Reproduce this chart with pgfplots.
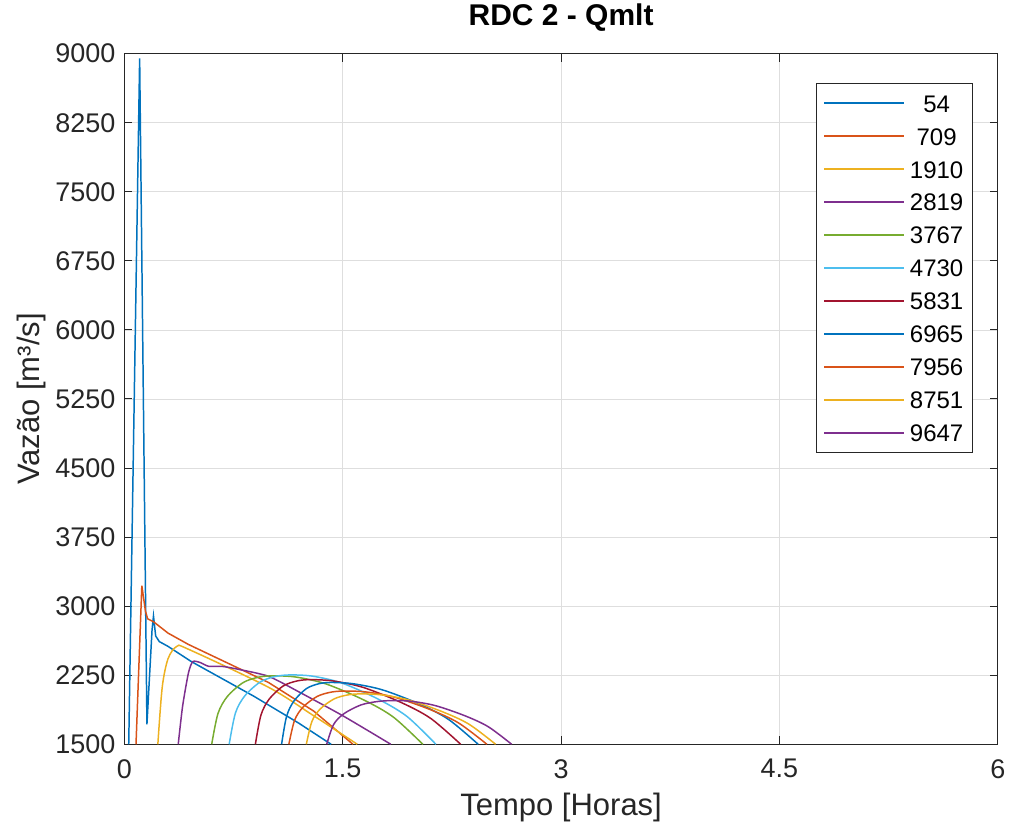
\documentclass[border=0pt]{standalone}
\usepackage{fontspec}
\setmainfont{Liberation Sans}
\usepackage{pgfplots}
\pgfplotsset{compat=1.18}
\definecolor{mA}{rgb}{0,0.447,0.741}
\definecolor{mB}{rgb}{0.850,0.325,0.098}
\definecolor{mC}{rgb}{0.929,0.694,0.125}
\definecolor{mD}{rgb}{0.494,0.184,0.556}
\definecolor{mE}{rgb}{0.466,0.674,0.188}
\definecolor{mF}{rgb}{0.301,0.745,0.933}
\definecolor{mG}{rgb}{0.635,0.078,0.184}
\definecolor{axgray}{rgb}{0.15,0.15,0.15}
\definecolor{gridgray}{rgb}{0.87,0.87,0.87}
\newcommand{\legbox}[1]{\hspace*{1.5bp}\makebox[24bp][c]{#1}}

\begin{document}
\begin{tikzpicture}
\begin{axis}[
    width=437bp, height=345.5bp, scale only axis,
    xmin=0, xmax=6, ymin=1500, ymax=9000,
    xtick={0,1.5,3,4.5,6},
    ytick={1500,2250,3000,3750,4500,5250,6000,6750,7500,8250,9000},
    scaled ticks=false,
    /pgf/number format/1000 sep={},
    /pgf/number format/assume math mode=true,
    tick align=inside,
    major tick length=4bp,
    axis line style={axgray, line width=0.5pt},
    tick style={axgray, line width=0.5pt},
    grid=major,
    major grid style={gridgray, line width=0.4pt},
    ticklabel style={font=\fontsize{13.5bp}{15bp}\selectfont, text=axgray},
    xticklabel style={yshift=-4bp},
    yticklabel style={xshift=-1bp},
    title={\textbf{RDC 2 - Qmlt}},
    title style={font=\fontsize{15bp}{17bp}\selectfont, at={(0.5,1)},
        anchor=base, inner sep=2bp, yshift=8bp},
    xlabel={Tempo [Horas]},
    ylabel={Vazão [m³/s]},
    label style={font=\fontsize{15.5bp}{17bp}\selectfont, text=axgray},
    xlabel style={yshift=-0.5bp},
    ylabel style={inner ysep=8.5bp, yshift=-7.3bp},
    legend style={at={(0.971,0.958)}, anchor=north east, draw=axgray,
        fill=white, font=\fontsize{12bp}{14bp}\selectfont, row sep=0bp,
        inner xsep=3.5bp, inner ysep=1.75bp,
        nodes={text height=9bp, text depth=0bp, inner ysep=3.75bp,
               inner xsep=2.25bp}},
    legend image code/.code={\draw (0bp,0bp) -- (40bp,0bp);},
    every axis plot/.append style={line width=0.75pt},
]
% 54
\addplot[mA] coordinates {
(0.03,1500) (0.105,8950) (0.155,1717) (0.19,2738) (0.20,2893) (0.215,2676)
(0.24,2615) (0.30,2563) (0.46,2398) (0.89,2021) (1.20,1727) (1.42,1500)};
% 709
\addplot[mB] coordinates {
(0.08,1500) (0.12,3223) (0.145,2945) (0.16,2862) (0.20,2831) (0.30,2707)
(0.44,2584) (0.99,2171) (1.30,1861) (1.57,1500)};
% 1910
\addplot[mC, smooth, tension=0.5] coordinates {
(0.23,1500) (0.26,2119) (0.30,2429) (0.36,2563) (0.44,2532) (0.99,2119)
(1.30,1810) (1.60,1500)};
% 2819
\addplot[mD, smooth, tension=0.4] coordinates {
(0.37,1500) (0.40,1913) (0.44,2274) (0.47,2398) (0.52,2388) (0.58,2346)
(0.67,2346) (0.78,2315) (0.99,2238) (1.20,2068) (1.50,1810) (1.83,1500)};
% 3767
\addplot[mE, smooth, tension=0.5] coordinates {
(0.60,1500) (0.643,1834) (0.708,2020) (0.815,2169) (0.923,2229) (1.03,2243)
(1.183,2229) (1.387,2154) (1.642,1983) (1.846,1797) (2.05,1500)};
% 4730
\addplot[mF, smooth, tension=0.5] coordinates {
(0.72,1500) (0.763,1840) (0.828,2027) (0.935,2178) (1.043,2238) (1.15,2253)
(1.299,2238) (1.497,2163) (1.744,1990) (1.942,1801) (2.14,1500)};
% 5831
\addplot[mG, smooth, tension=0.5] coordinates {
(0.90,1500) (0.938,1816) (0.995,1991) (1.09,2132) (1.185,2187) (1.28,2202)
(1.435,2187) (1.641,2117) (1.898,1956) (2.104,1781) (2.31,1500)};
% 6965
\addplot[mA, smooth, tension=0.5] coordinates {
(1.08,1500) (1.114,1802) (1.165,1970) (1.25,2104) (1.335,2157) (1.42,2171)
(1.572,2157) (1.774,2090) (2.027,1937) (2.228,1768) (2.43,1500)};
% 7956
\addplot[mB, smooth, tension=0.5] coordinates {
(1.13,1500) (1.169,1760) (1.228,1905) (1.325,2020) (1.423,2067) (1.52,2078)
(1.666,2067) (1.86,2009) (2.102,1876) (2.296,1731) (2.49,1500)};
% 8751
\addplot[mC, smooth, tension=0.5] coordinates {
(1.25,1500) (1.288,1747) (1.345,1883) (1.44,1992) (1.535,2036) (1.63,2047)
(1.768,2036) (1.952,1981) (2.18,1856) (2.366,1719) (2.55,1500)};
% 9647
\addplot[mD, smooth, tension=0.5] coordinates {
(1.39,1500) (1.437,1714) (1.508,1832) (1.625,1927) (1.743,1965) (1.86,1975)
(1.98,1965) (2.14,1918) (2.34,1809) (2.50,1690) (2.66,1500)};
\legend{\legbox{54},\legbox{709},\legbox{1910},\legbox{2819},\legbox{3767},
        \legbox{4730},\legbox{5831},\legbox{6965},\legbox{7956},\legbox{8751},
        \legbox{9647}}
\end{axis}
\end{tikzpicture}
\end{document}
